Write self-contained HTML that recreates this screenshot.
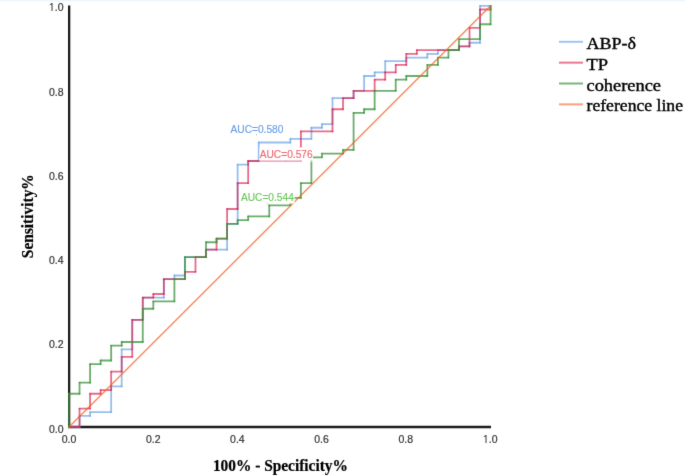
<!DOCTYPE html>
<html><head><meta charset="utf-8"><style>
html,body{margin:0;padding:0;background:#fff;}
body{width:685px;height:476px;overflow:hidden;position:relative;}
svg{display:block;position:absolute;left:0;top:0;}
.tk{font-family:"Liberation Sans",Arial,sans-serif;font-size:10.5px;fill:#333;stroke:#333;stroke-width:0.2px;}
.lg{font-family:"Liberation Serif","Times New Roman",serif;font-size:17.4px;fill:#000;stroke:#000;stroke-width:0.4px;}
.ax{font-family:"Liberation Serif","Times New Roman",serif;font-size:16.0px;font-weight:bold;fill:#000;stroke:#000;stroke-width:0.2px;}
.auc{font-family:"Liberation Sans",Arial,sans-serif;font-size:10.2px;stroke-width:0.15px;}
</style></head><body>
<svg width="685" height="476" viewBox="0 0 685 476">
<defs><filter id="soft" x="0" y="0" width="685" height="476" filterUnits="userSpaceOnUse" color-interpolation-filters="sRGB"><feConvolveMatrix order="3" kernelMatrix="0.01 0.07 0.01 0.07 0.68 0.07 0.01 0.07 0.01" edgeMode="none" preserveAlpha="false"/></filter></defs>
<g filter="url(#soft)">
<rect x="0" y="0" width="685" height="1" fill="#ebf3fd"/>
<rect x="0" y="1" width="685" height="1" fill="#f8fbfe"/>
<g class="tk"><text x="63.6" y="432.50" text-anchor="end">0.0</text><text x="63.6" y="348.26" text-anchor="end">0.2</text><text x="63.6" y="264.02" text-anchor="end">0.4</text><text x="63.6" y="179.78" text-anchor="end">0.6</text><text x="63.6" y="95.54" text-anchor="end">0.8</text><text x="63.6" y="11.30" text-anchor="end"><tspan style="font-family:NanumGothic,'Liberation Sans',sans-serif">1</tspan>.0</text><text x="69.00" y="443" text-anchor="middle">0.0</text><text x="153.20" y="443" text-anchor="middle">0.2</text><text x="237.40" y="443" text-anchor="middle">0.4</text><text x="321.60" y="443" text-anchor="middle">0.6</text><text x="405.80" y="443" text-anchor="middle">0.8</text><text x="490.00" y="443" text-anchor="middle"><tspan style="font-family:NanumGothic,'Liberation Sans',sans-serif">1</tspan>.0</text></g>
<path d="M69.15 5.6 L69.15 427 L491 427" fill="none" stroke="#1c1c1c" stroke-width="2.3"/>


<g fill="none" stroke-width="1.8" stroke-linecap="round">
  <g stroke="#6ba2e5" stroke-opacity="0.7"><line x1="69.00" y1="427.00" x2="79.54" y2="427.00"/><line x1="79.54" y1="427.00" x2="79.54" y2="415.92"/><line x1="79.54" y1="415.92" x2="90.08" y2="415.92"/><line x1="90.08" y1="415.92" x2="90.08" y2="412.22"/><line x1="90.08" y1="412.22" x2="111.16" y2="412.22"/><line x1="111.16" y1="412.22" x2="111.16" y2="386.36"/><line x1="111.16" y1="386.36" x2="121.70" y2="386.36"/><line x1="121.70" y1="386.36" x2="121.70" y2="349.41"/><line x1="121.70" y1="349.41" x2="132.24" y2="349.41"/><line x1="132.24" y1="349.41" x2="132.24" y2="319.85"/><line x1="132.24" y1="319.85" x2="142.78" y2="319.85"/><line x1="142.78" y1="319.85" x2="142.78" y2="297.68"/><line x1="142.78" y1="297.68" x2="163.86" y2="297.68"/><line x1="163.86" y1="297.68" x2="163.86" y2="279.21"/><line x1="163.86" y1="279.21" x2="174.40" y2="279.21"/><line x1="174.40" y1="279.21" x2="174.40" y2="275.52"/><line x1="174.40" y1="275.52" x2="184.94" y2="275.52"/><line x1="184.94" y1="275.52" x2="184.94" y2="257.04"/><line x1="184.94" y1="257.04" x2="206.02" y2="257.04"/><line x1="206.02" y1="257.04" x2="206.02" y2="249.65"/><line x1="206.02" y1="249.65" x2="227.10" y2="249.65"/><line x1="227.10" y1="249.65" x2="227.10" y2="223.79"/><line x1="227.10" y1="223.79" x2="237.64" y2="223.79"/><line x1="237.64" y1="223.79" x2="237.64" y2="164.67"/><line x1="237.64" y1="164.67" x2="248.18" y2="164.67"/><line x1="248.18" y1="164.67" x2="248.18" y2="160.98"/><line x1="248.18" y1="160.98" x2="258.72" y2="160.98"/><line x1="258.72" y1="160.98" x2="258.72" y2="142.51"/><line x1="258.72" y1="142.51" x2="290.34" y2="142.51"/><line x1="290.34" y1="142.51" x2="290.34" y2="138.81"/><line x1="290.34" y1="138.81" x2="311.42" y2="138.81"/><line x1="311.42" y1="138.81" x2="311.42" y2="127.73"/><line x1="311.42" y1="127.73" x2="321.96" y2="127.73"/><line x1="321.96" y1="127.73" x2="321.96" y2="124.03"/><line x1="321.96" y1="124.03" x2="332.50" y2="124.03"/><line x1="332.50" y1="124.03" x2="332.50" y2="98.17"/><line x1="332.50" y1="98.17" x2="353.58" y2="98.17"/><line x1="353.58" y1="98.17" x2="353.58" y2="90.78"/><line x1="353.58" y1="90.78" x2="364.12" y2="90.78"/><line x1="364.12" y1="90.78" x2="364.12" y2="76.00"/><line x1="364.12" y1="76.00" x2="374.66" y2="76.00"/><line x1="374.66" y1="76.00" x2="374.66" y2="72.31"/><line x1="374.66" y1="72.31" x2="385.20" y2="72.31"/><line x1="385.20" y1="72.31" x2="385.20" y2="61.22"/><line x1="385.20" y1="61.22" x2="406.28" y2="61.22"/><line x1="406.28" y1="61.22" x2="406.28" y2="57.53"/><line x1="406.28" y1="57.53" x2="427.36" y2="57.53"/><line x1="427.36" y1="57.53" x2="427.36" y2="53.83"/><line x1="427.36" y1="53.83" x2="437.90" y2="53.83"/><line x1="437.90" y1="53.83" x2="437.90" y2="50.14"/><line x1="437.90" y1="50.14" x2="458.98" y2="50.14"/><line x1="458.98" y1="50.14" x2="458.98" y2="46.44"/><line x1="458.98" y1="46.44" x2="469.52" y2="46.44"/><line x1="469.52" y1="46.44" x2="469.52" y2="42.75"/><line x1="469.52" y1="42.75" x2="480.06" y2="42.75"/><line x1="480.06" y1="42.75" x2="480.06" y2="5.80"/><line x1="480.06" y1="5.80" x2="490.60" y2="5.80"/></g>
  <g stroke="#da1c4c" stroke-opacity="0.65"><line x1="69.00" y1="427.00" x2="79.54" y2="427.00"/><line x1="79.54" y1="427.00" x2="79.54" y2="408.53"/><line x1="79.54" y1="408.53" x2="90.08" y2="408.53"/><line x1="90.08" y1="408.53" x2="90.08" y2="393.75"/><line x1="90.08" y1="393.75" x2="100.62" y2="393.75"/><line x1="100.62" y1="393.75" x2="100.62" y2="390.05"/><line x1="100.62" y1="390.05" x2="111.16" y2="390.05"/><line x1="111.16" y1="390.05" x2="111.16" y2="371.58"/><line x1="111.16" y1="371.58" x2="121.70" y2="371.58"/><line x1="121.70" y1="371.58" x2="121.70" y2="356.80"/><line x1="121.70" y1="356.80" x2="132.24" y2="356.80"/><line x1="132.24" y1="356.80" x2="132.24" y2="319.85"/><line x1="132.24" y1="319.85" x2="142.78" y2="319.85"/><line x1="142.78" y1="319.85" x2="142.78" y2="297.68"/><line x1="142.78" y1="297.68" x2="153.32" y2="297.68"/><line x1="153.32" y1="297.68" x2="153.32" y2="293.99"/><line x1="153.32" y1="293.99" x2="163.86" y2="293.99"/><line x1="163.86" y1="293.99" x2="163.86" y2="279.21"/><line x1="163.86" y1="279.21" x2="184.94" y2="279.21"/><line x1="184.94" y1="279.21" x2="184.94" y2="271.82"/><line x1="184.94" y1="271.82" x2="195.48" y2="271.82"/><line x1="195.48" y1="271.82" x2="195.48" y2="257.04"/><line x1="195.48" y1="257.04" x2="206.02" y2="257.04"/><line x1="206.02" y1="257.04" x2="206.02" y2="249.65"/><line x1="206.02" y1="249.65" x2="216.56" y2="249.65"/><line x1="216.56" y1="249.65" x2="216.56" y2="238.57"/><line x1="216.56" y1="238.57" x2="227.10" y2="238.57"/><line x1="227.10" y1="238.57" x2="227.10" y2="209.01"/><line x1="227.10" y1="209.01" x2="237.64" y2="209.01"/><line x1="237.64" y1="209.01" x2="237.64" y2="183.15"/><line x1="237.64" y1="183.15" x2="248.18" y2="183.15"/><line x1="248.18" y1="183.15" x2="248.18" y2="160.98"/><line x1="248.18" y1="160.98" x2="300.88" y2="160.98"/><line x1="300.88" y1="160.98" x2="300.88" y2="131.42"/><line x1="300.88" y1="131.42" x2="332.50" y2="131.42"/><line x1="332.50" y1="131.42" x2="332.50" y2="109.25"/><line x1="332.50" y1="109.25" x2="343.04" y2="109.25"/><line x1="343.04" y1="109.25" x2="343.04" y2="98.17"/><line x1="343.04" y1="98.17" x2="353.58" y2="98.17"/><line x1="353.58" y1="98.17" x2="353.58" y2="90.78"/><line x1="353.58" y1="90.78" x2="374.66" y2="90.78"/><line x1="374.66" y1="90.78" x2="374.66" y2="79.69"/><line x1="374.66" y1="79.69" x2="385.20" y2="79.69"/><line x1="385.20" y1="79.69" x2="385.20" y2="72.31"/><line x1="385.20" y1="72.31" x2="395.74" y2="72.31"/><line x1="395.74" y1="72.31" x2="395.74" y2="64.92"/><line x1="395.74" y1="64.92" x2="406.28" y2="64.92"/><line x1="406.28" y1="64.92" x2="406.28" y2="53.83"/><line x1="406.28" y1="53.83" x2="416.82" y2="53.83"/><line x1="416.82" y1="53.83" x2="416.82" y2="50.14"/><line x1="416.82" y1="50.14" x2="458.98" y2="50.14"/><line x1="458.98" y1="50.14" x2="458.98" y2="46.44"/><line x1="458.98" y1="46.44" x2="469.52" y2="46.44"/><line x1="469.52" y1="46.44" x2="469.52" y2="27.97"/><line x1="469.52" y1="27.97" x2="480.06" y2="27.97"/><line x1="480.06" y1="27.97" x2="480.06" y2="9.49"/><line x1="480.06" y1="9.49" x2="490.60" y2="9.49"/><line x1="490.60" y1="9.49" x2="490.60" y2="5.80"/></g>
  <g stroke="#3b923b" stroke-opacity="0.75"><line x1="69.00" y1="427.00" x2="69.00" y2="393.75"/><line x1="69.00" y1="393.75" x2="79.54" y2="393.75"/><line x1="79.54" y1="393.75" x2="79.54" y2="382.66"/><line x1="79.54" y1="382.66" x2="90.08" y2="382.66"/><line x1="90.08" y1="382.66" x2="90.08" y2="364.19"/><line x1="90.08" y1="364.19" x2="100.62" y2="364.19"/><line x1="100.62" y1="364.19" x2="100.62" y2="360.49"/><line x1="100.62" y1="360.49" x2="111.16" y2="360.49"/><line x1="111.16" y1="360.49" x2="111.16" y2="345.72"/><line x1="111.16" y1="345.72" x2="121.70" y2="345.72"/><line x1="121.70" y1="345.72" x2="121.70" y2="342.02"/><line x1="121.70" y1="342.02" x2="142.78" y2="342.02"/><line x1="142.78" y1="342.02" x2="142.78" y2="308.77"/><line x1="142.78" y1="308.77" x2="153.32" y2="308.77"/><line x1="153.32" y1="308.77" x2="153.32" y2="301.38"/><line x1="153.32" y1="301.38" x2="174.40" y2="301.38"/><line x1="174.40" y1="301.38" x2="174.40" y2="279.21"/><line x1="174.40" y1="279.21" x2="184.94" y2="279.21"/><line x1="184.94" y1="279.21" x2="184.94" y2="257.04"/><line x1="184.94" y1="257.04" x2="206.02" y2="257.04"/><line x1="206.02" y1="257.04" x2="206.02" y2="242.26"/><line x1="206.02" y1="242.26" x2="216.56" y2="242.26"/><line x1="216.56" y1="242.26" x2="216.56" y2="238.57"/><line x1="216.56" y1="238.57" x2="227.10" y2="238.57"/><line x1="227.10" y1="238.57" x2="227.10" y2="223.79"/><line x1="227.10" y1="223.79" x2="237.64" y2="223.79"/><line x1="237.64" y1="223.79" x2="237.64" y2="220.09"/><line x1="237.64" y1="220.09" x2="248.18" y2="220.09"/><line x1="248.18" y1="220.09" x2="248.18" y2="216.40"/><line x1="248.18" y1="216.40" x2="269.26" y2="216.40"/><line x1="269.26" y1="216.40" x2="269.26" y2="205.32"/><line x1="269.26" y1="205.32" x2="290.34" y2="205.32"/><line x1="290.34" y1="205.32" x2="290.34" y2="197.93"/><line x1="290.34" y1="197.93" x2="300.88" y2="197.93"/><line x1="300.88" y1="197.93" x2="300.88" y2="183.15"/><line x1="300.88" y1="183.15" x2="311.42" y2="183.15"/><line x1="311.42" y1="183.15" x2="311.42" y2="157.28"/><line x1="311.42" y1="157.28" x2="321.96" y2="157.28"/><line x1="321.96" y1="157.28" x2="321.96" y2="153.59"/><line x1="321.96" y1="153.59" x2="343.04" y2="153.59"/><line x1="343.04" y1="153.59" x2="343.04" y2="149.89"/><line x1="343.04" y1="149.89" x2="353.58" y2="149.89"/><line x1="353.58" y1="149.89" x2="353.58" y2="112.95"/><line x1="353.58" y1="112.95" x2="364.12" y2="112.95"/><line x1="364.12" y1="112.95" x2="364.12" y2="109.25"/><line x1="364.12" y1="109.25" x2="374.66" y2="109.25"/><line x1="374.66" y1="109.25" x2="374.66" y2="90.78"/><line x1="374.66" y1="90.78" x2="395.74" y2="90.78"/><line x1="395.74" y1="90.78" x2="395.74" y2="79.69"/><line x1="395.74" y1="79.69" x2="406.28" y2="79.69"/><line x1="406.28" y1="79.69" x2="406.28" y2="76.00"/><line x1="406.28" y1="76.00" x2="427.36" y2="76.00"/><line x1="427.36" y1="76.00" x2="427.36" y2="64.92"/><line x1="427.36" y1="64.92" x2="437.90" y2="64.92"/><line x1="437.90" y1="64.92" x2="437.90" y2="57.53"/><line x1="437.90" y1="57.53" x2="448.44" y2="57.53"/><line x1="448.44" y1="57.53" x2="448.44" y2="50.14"/><line x1="448.44" y1="50.14" x2="458.98" y2="50.14"/><line x1="458.98" y1="50.14" x2="458.98" y2="39.05"/><line x1="458.98" y1="39.05" x2="480.06" y2="39.05"/><line x1="480.06" y1="39.05" x2="480.06" y2="24.27"/><line x1="480.06" y1="24.27" x2="490.60" y2="24.27"/><line x1="490.60" y1="24.27" x2="490.60" y2="5.80"/></g>
  <line x1="69.0" y1="427.0" x2="490.6" y2="5.8" stroke="#f0601f" stroke-width="1.45" stroke-opacity="0.72"/>
</g>
<g>
<rect x="229" y="122" width="55" height="13" fill="#fff"/>
<rect x="259.5" y="147.5" width="53.5" height="13.0" fill="#fff"/>
<rect x="259.5" y="160.50" width="53.5" height="1.6" fill="#fff" fill-opacity="0.45"/>
<rect x="240.5" y="190.5" width="54" height="13" fill="#fff"/>
<text class="auc" x="230.5" y="132.8" fill="#6a9ee6" stroke="#6a9ee6">AUC=0.580</text>
<text class="auc" x="259.7" y="158" fill="#ee6a72" stroke="#ee6a72">AUC=0.576</text>
<text class="auc" x="240.9" y="200.8" fill="#6cc85c" stroke="#6cc85c">AUC=0.544</text>
</g>
<g fill="#aaa"><rect x="256" y="134.2" width="1" height="1"/><rect x="285.2" y="160.6" width="1" height="1"/><rect x="267.2" y="203.2" width="1" height="1"/></g>
<g class="lg"><line x1="559" y1="41.80" x2="583" y2="41.80" stroke="#a0c3ee" stroke-width="2"/><text x="586.5" y="48.80" textLength="49.5" lengthAdjust="spacingAndGlyphs">ABP-δ</text><line x1="559" y1="62.65" x2="583" y2="62.65" stroke="#e9778f" stroke-width="2"/><text x="586.5" y="69.65" textLength="21.6" lengthAdjust="spacingAndGlyphs">TP</text><line x1="559" y1="83.50" x2="583" y2="83.50" stroke="#78b478" stroke-width="2"/><text x="586.5" y="90.50" textLength="74.5" lengthAdjust="spacingAndGlyphs">coherence</text><line x1="559" y1="104.35" x2="583" y2="104.35" stroke="#f9a17f" stroke-width="2"/><text x="586.5" y="111.35" textLength="96.5" lengthAdjust="spacingAndGlyphs">reference line</text></g>
<text class="ax" x="280.4" y="471" text-anchor="middle" textLength="135.0" lengthAdjust="spacingAndGlyphs">100% - Specificity%</text>
<text class="ax" transform="translate(33.3,216.2) rotate(-90)" text-anchor="middle" textLength="84.0" lengthAdjust="spacingAndGlyphs">Sensitivity%</text>
</g>
</svg>
</body></html>
